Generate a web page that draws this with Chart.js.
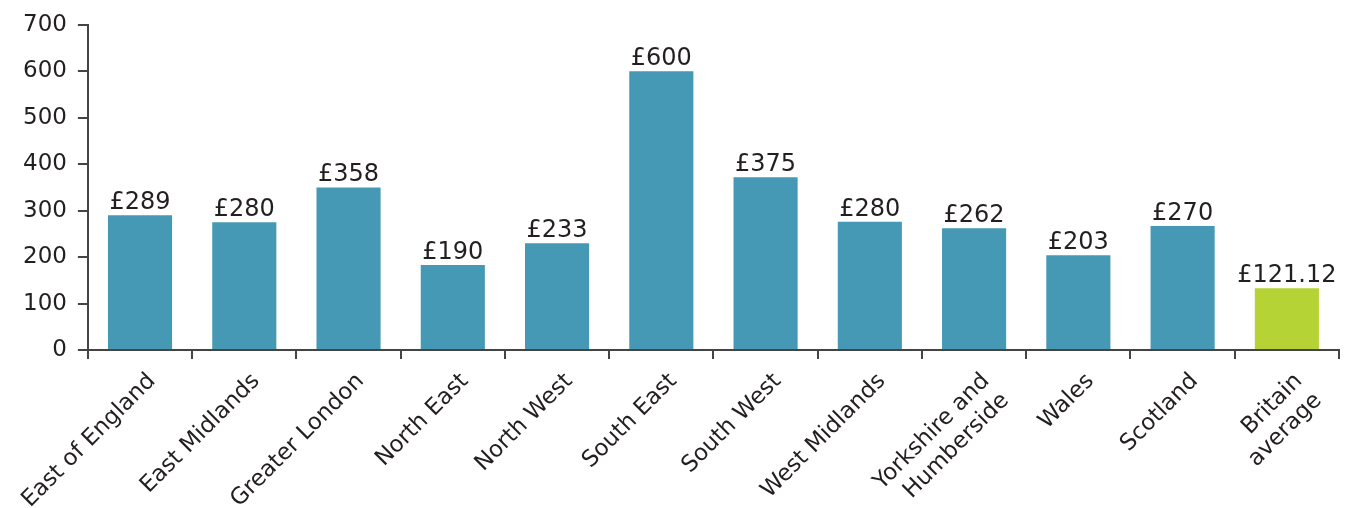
<!DOCTYPE html>
<html>
<head>
<meta charset="utf-8">
<script src="https://cdn.jsdelivr.net/npm/chart.js@4.4.1/dist/chart.umd.min.js"></script>
<style>
html,body{margin:0;padding:0;background:#fff;}
#wrap{width:1347px;height:508px;position:relative;}
</style>
</head>
<body>
<div id="wrap"><canvas id="c" width="1347" height="508"></canvas></div>
<script>
const categories = [
  "East of England", "East Midlands", "Greater London", "North East", "North West",
  "South East", "South West", "West Midlands", ["Yorkshire and", "Humberside"],
  "Wales", "Scotland", ["Britain", "average"]
];
const barValues = [290, 275, 350, 183, 230, 600, 372, 276, 262, 204, 267, 133];
const valueLabels = ["£289", "£280", "£358", "£190", "£233", "£600", "£375", "£280", "£262", "£203", "£270", "£121.12"];
const yTicks = [0, 100, 200, 300, 400, 500, 600, 700];

const teal = "#4699B5";
const green = "#B5D334";
const barColors = categories.map((c, i) => i === categories.length - 1 ? green : teal);

const valueLabelPlugin = {
  id: "valueLabels",
  afterDatasetsDraw(chart) {
    const ctx = chart.ctx;
    const meta = chart.getDatasetMeta(0);
    ctx.save();
    ctx.font = "24px 'DejaVu Sans'";
    ctx.fillStyle = "#231F20";
    ctx.textAlign = "center";
    ctx.textBaseline = "alphabetic";
    meta.data.forEach((bar, i) => {
      ctx.fillText(valueLabels[i], bar.x, bar.y - 6);
    });
    ctx.restore();
  }
};

new Chart(document.getElementById("c"), {
  type: "bar",
  data: {
    labels: categories,
    datasets: [{
      data: barValues,
      backgroundColor: barColors,
      borderWidth: 0,
      barPercentage: 0.615,
      categoryPercentage: 1.0
    }]
  },
  options: {
    responsive: false,
    animation: false,
    events: [],
    layout: { padding: { top: 13, right: 8, left: 12, bottom: 0 } },
    plugins: { legend: { display: false }, tooltip: { enabled: false } },
    scales: {
      y: {
        min: 0, max: 700,
        afterBuildTicks(axis) { axis.ticks = yTicks.map(v => ({ value: v })); },
        border: { display: true, color: "#444", width: 2 },
        grid: { drawOnChartArea: false, drawTicks: true, tickLength: 10, color: "#444", lineWidth: 2 },
        ticks: { color: "#231F20", font: { family: "DejaVu Sans", size: 23 }, padding: 11 }
      },
      x: {
        offset: true,
        afterFit(scale) { scale.height = 158; },
        border: { display: true, color: "#444", width: 2 },
        grid: { offset: true, drawOnChartArea: false, drawTicks: true, tickLength: 9, color: "#444", lineWidth: 2 },
        ticks: { color: "#231F20", font: { family: "DejaVu Sans", size: 22.8, lineHeight: 1.2 }, minRotation: 45, maxRotation: 45, padding: 9, labelOffset: 12, autoSkip: false }
      }
    }
  },
  plugins: [valueLabelPlugin]
});
</script>
</body>
</html>
